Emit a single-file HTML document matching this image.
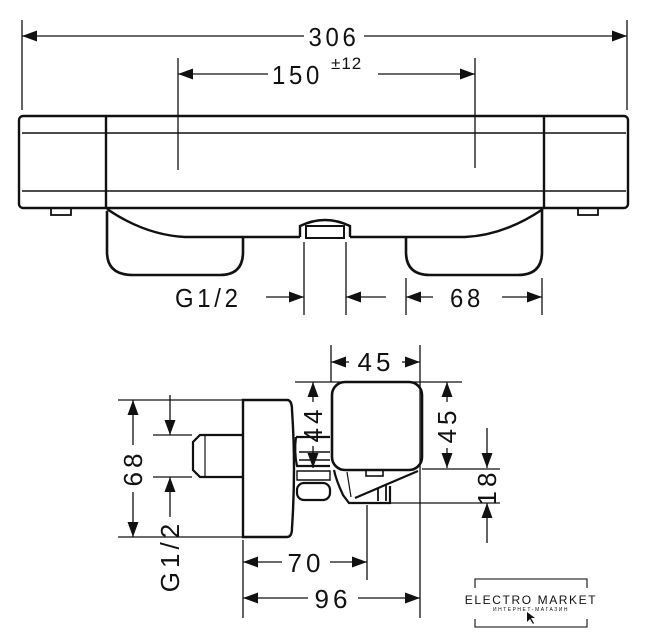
<!DOCTYPE html>
<html><head><meta charset="utf-8"><style>
html,body{margin:0;padding:0;background:#fff;}
svg{display:block;}
text{font-family:"Liberation Sans",sans-serif;fill:#111;}
</style></head><body>
<svg width="649" height="640" viewBox="0 0 649 640" xmlns="http://www.w3.org/2000/svg">
<defs>
<marker id="a" viewBox="0 0 15 11" refX="15" refY="5.5" markerWidth="15" markerHeight="11" markerUnits="userSpaceOnUse" orient="auto-start-reverse"><path d="M0,0 L15,5.5 L0,11 Z" fill="#111"/></marker>
</defs>
<g stroke="#111" stroke-width="1.3" fill="none">
<line x1="22" y1="20" x2="22" y2="110"/><line x1="627" y1="20" x2="627" y2="110"/>
<line x1="22" y1="36" x2="304" y2="36" marker-start="url(#a)"/>
<line x1="364" y1="36" x2="627" y2="36" marker-end="url(#a)"/>
<line x1="178" y1="58" x2="178" y2="170"/><line x1="475" y1="58" x2="475" y2="168"/>
<line x1="178" y1="74" x2="268" y2="74" marker-start="url(#a)"/>
<line x1="378" y1="74" x2="475" y2="74" marker-end="url(#a)"/>
</g>
<text x="334" y="46" font-size="26" text-anchor="middle" letter-spacing="4" transform="translate(334,0) scale(0.92,1) translate(-334,0)">306</text>
<text x="272" y="84" font-size="26" letter-spacing="4" transform="translate(272,0) scale(0.92,1) translate(-272,0)">150</text>
<text x="331" y="69" font-size="17" letter-spacing="1">±12</text>

<g stroke="#111" fill="none">
<rect x="19" y="116" width="609" height="92" rx="4" stroke-width="2.4"/>
<line x1="22" y1="133" x2="626" y2="133" stroke-width="1.6"/>
<line x1="22" y1="191" x2="626" y2="191" stroke-width="1.6"/>
<line x1="106" y1="117" x2="106" y2="208" stroke-width="2.4"/>
<line x1="544" y1="117" x2="544" y2="208" stroke-width="2.4"/>
<rect x="51" y="208" width="20" height="7" stroke-width="1.8"/>
<rect x="578" y="208" width="20" height="7" stroke-width="1.8"/>
<path d="M107,209 Q145,235 185,237 L300,237 M350,237 L465,237 Q505,235 543,209" stroke-width="2.4"/>
<path d="M300,237 L300,226 Q325,214 350,226 L350,237" stroke-width="2.4"/>
<rect x="306" y="226" width="38" height="12" stroke-width="2"/>
<path d="M107,211 L107,252 Q107,275 133,275 L220,275 Q243,275 243,252 L243,237" stroke-width="2.6"/>
<path d="M406,237 L406,252 Q406,275 430,275 L518,275 Q542,275 542,252 L542,210" stroke-width="2.6"/>
</g>
<g stroke="#111" stroke-width="1.3" fill="none">
<line x1="304" y1="242" x2="304" y2="315"/><line x1="346" y1="242" x2="346" y2="315"/>
<line x1="406" y1="278" x2="406" y2="315"/><line x1="542" y1="278" x2="542" y2="315"/>
<line x1="266" y1="297" x2="304" y2="297" marker-end="url(#a)"/>
<line x1="386" y1="297" x2="346" y2="297" marker-end="url(#a)"/>
<line x1="406" y1="297" x2="433" y2="297" marker-start="url(#a)"/>
<line x1="502" y1="297" x2="542" y2="297" marker-end="url(#a)"/>
</g>
<text x="175" y="307" font-size="26" letter-spacing="4" transform="translate(175,0) scale(0.92,1) translate(-175,0)">G1/2</text>
<text x="467" y="307" font-size="26" text-anchor="middle" letter-spacing="4" transform="translate(467,0) scale(0.92,1) translate(-467,0)">68</text>

<g stroke="#111" fill="none">
<path d="M243,400 L287,400 Q292,400 292,410 Q296,468 292,528 Q292,537 287,537 L243,537 Z" stroke-width="2.4"/>
<path d="M242,435 L200,435 L193,442 L193,470 L200,477 L242,477" stroke-width="2.2"/>
<line x1="205" y1="436" x2="205" y2="476" stroke-width="1.2"/>
<rect x="332" y="382" width="90" height="88" rx="13" stroke-width="2.6"/>
<path d="M334,470 Q336,480 343,495 L349,503 L390,503 L390,486" stroke-width="2.2"/>
<path d="M418,471 L355,498" stroke-width="2.2"/>
<path d="M347,472 L351,497" stroke-width="1.2"/>
<rect x="366" y="470" width="17" height="6" stroke-width="1.6"/>
<path d="M378,488 L378,501 M386,485 L386,501" stroke-width="1.8"/>
<path d="M296,437 Q294,452 297,466 L330,466 M296,437 L330,437" stroke-width="2.2"/>
<path d="M299,452 L330,452 M299,460 L330,460" stroke-width="1.4"/>
<rect x="297" y="483" width="33" height="17" rx="7" stroke-width="2.2"/>
<path d="M297,471 L330,471 L330,480 L297,480 Z" stroke-width="1.4"/>
</g>
<g stroke="#111" stroke-width="1.3" fill="none">
<line x1="331" y1="345" x2="331" y2="382"/><line x1="420" y1="345" x2="420" y2="618"/>
<line x1="331" y1="362" x2="349" y2="362" marker-start="url(#a)"/>
<line x1="402" y1="362" x2="420" y2="362" marker-end="url(#a)"/>
<line x1="295" y1="382" x2="462" y2="382"/>
<line x1="422" y1="469" x2="500" y2="469"/>
<line x1="390" y1="503" x2="500" y2="503"/>
<line x1="313" y1="382" x2="313" y2="402" marker-start="url(#a)"/>
<line x1="313" y1="446" x2="313" y2="468" marker-end="url(#a)"/>
<line x1="447" y1="382" x2="447" y2="402" marker-start="url(#a)"/>
<line x1="447" y1="448" x2="447" y2="468" marker-end="url(#a)"/>
<line x1="487" y1="428" x2="487" y2="468" marker-end="url(#a)"/>
<line x1="487" y1="543" x2="487" y2="503" marker-end="url(#a)"/>
<line x1="118" y1="400" x2="243" y2="400"/><line x1="118" y1="537" x2="243" y2="537"/>
<line x1="133" y1="400" x2="133" y2="445" marker-start="url(#a)"/>
<line x1="133" y1="492" x2="133" y2="537" marker-end="url(#a)"/>
<line x1="153" y1="435" x2="192" y2="435"/><line x1="153" y1="477" x2="192" y2="477"/>
<line x1="170" y1="395" x2="170" y2="435" marker-end="url(#a)"/>
<line x1="170" y1="517" x2="170" y2="477" marker-end="url(#a)"/>
<line x1="243" y1="540" x2="243" y2="618"/>
<line x1="367" y1="505" x2="367" y2="580"/>
<line x1="243" y1="562" x2="282" y2="562" marker-start="url(#a)"/>
<line x1="330" y1="562" x2="367" y2="562" marker-end="url(#a)"/>
<line x1="243" y1="598" x2="308" y2="598" marker-start="url(#a)"/>
<line x1="358" y1="598" x2="420" y2="598" marker-end="url(#a)"/>
</g>
<text x="376" y="371" font-size="26" text-anchor="middle" letter-spacing="4">45</text>
<text x="306" y="572" font-size="26" text-anchor="middle" letter-spacing="4">70</text>
<text x="333" y="608" font-size="26" text-anchor="middle" letter-spacing="4">96</text>
<text transform="translate(322,424) rotate(-90)" font-size="26" text-anchor="middle" letter-spacing="4">44</text>
<text transform="translate(456,425) rotate(-90)" font-size="26" text-anchor="middle" letter-spacing="4">45</text>
<text transform="translate(496,487) rotate(-90)" font-size="26" text-anchor="middle" letter-spacing="4">18</text>
<text transform="translate(142,468) rotate(-90)" font-size="26" text-anchor="middle" letter-spacing="4">68</text>
<text transform="translate(179,556) rotate(-90)" font-size="26" text-anchor="middle" letter-spacing="4">G1/2</text>

<g stroke="#333" stroke-width="1.3" fill="none">
<path d="M475,588 L475,579 L587,579 L587,588"/>
<path d="M475,619 L475,627 L587,627 L587,619"/>
</g>
<text x="531" y="604" font-size="12" text-anchor="middle" letter-spacing="1.6">ELECTRO MARKET</text>
<text x="531" y="611" font-size="5" text-anchor="middle" letter-spacing="1.5" fill="#555">ИНТЕРНЕТ-МАГАЗИН</text>
<path d="M527,612 L527,622 L530,619 L533,624 L534,623 L531,618 L535,618 Z" fill="#111"/>
</svg>
</body></html>
